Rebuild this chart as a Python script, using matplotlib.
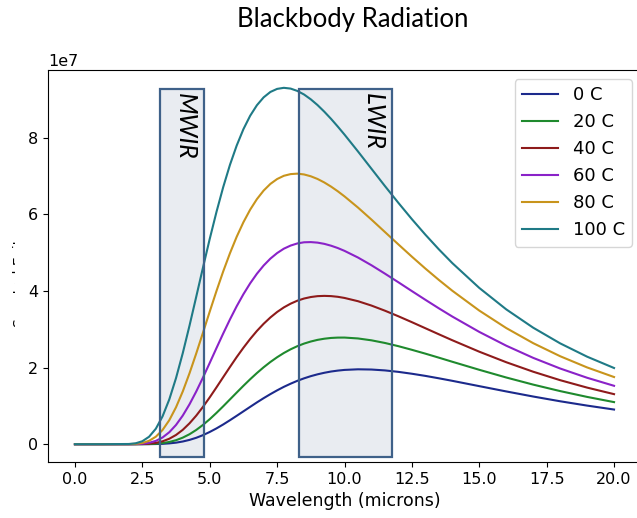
import numpy as np
import matplotlib.pyplot as plt
from matplotlib.patches import Rectangle

# === 1. Curves (units of 1e7) ===
wavelength = [0, 1, 2, 2.25, 2.5, 2.75, 3, 3.25, 3.5, 3.75, 4, 4.25, 4.5, 4.75, 5,
              5.25, 5.5, 5.75, 6, 6.25, 6.5, 6.75, 7, 7.25, 7.5, 7.75, 8, 8.25, 8.5, 8.75,
              9, 9.25, 9.5, 9.75, 10,
              10.5, 11, 11.5, 12, 12.5, 13, 13.5, 14,
              15, 16, 17, 18, 19, 20]

c0 = [0, 0, 0, 0, 0.0003, 0.001, 0.004, 0.009, 0.021, 0.040, 0.070, 0.112, 0.167, 0.236, 0.319,
      0.412, 0.515, 0.626, 0.741, 0.858, 0.975, 1.091, 1.202, 1.307, 1.406, 1.498, 1.580, 1.655, 1.720, 1.777,
      1.825, 1.865, 1.898, 1.922, 1.940,
      1.956, 1.950, 1.927, 1.889, 1.840, 1.784, 1.721, 1.655,
      1.516, 1.378, 1.245, 1.121, 1.008, 0.905]
c20 = [0, 0, 0, 0.0002, 0.001, 0.004, 0.012, 0.029, 0.058, 0.104, 0.171, 0.260, 0.372, 0.504, 0.653,
       0.817, 0.990, 1.169, 1.348, 1.525, 1.696, 1.858, 2.009, 2.147, 2.271, 2.382, 2.478, 2.560, 2.628, 2.682,
       2.725, 2.755, 2.775, 2.784, 2.785,
       2.762, 2.713, 2.644, 2.560, 2.465, 2.365, 2.260, 2.153,
       1.943, 1.742, 1.556, 1.387, 1.235, 1.099]
c40 = [0, 0, 0.0001, 0.0009, 0.004, 0.013, 0.034, 0.075, 0.142, 0.241, 0.375, 0.545, 0.746, 0.975, 1.223,
       1.484, 1.751, 2.016, 2.275, 2.519, 2.748, 2.958, 3.145, 3.310, 3.453, 3.573, 3.670, 3.748, 3.805, 3.844,
       3.867, 3.874, 3.868, 3.850, 3.820,
       3.735, 3.621, 3.487, 3.341, 3.187, 3.029, 2.871, 2.715,
       2.416, 2.141, 1.893, 1.672, 1.478, 1.307]
c60 = [0, 0, 0.0005, 0.003, 0.012, 0.036, 0.086, 0.175, 0.312, 0.503, 0.748, 1.042, 1.377, 1.741, 2.123,
       2.510, 2.891, 3.258, 3.603, 3.918, 4.202, 4.452, 4.667, 4.847, 4.992, 5.107, 5.188, 5.244, 5.274, 5.279,
       5.265, 5.233, 5.185, 5.124, 5.050,
       4.876, 4.674, 4.455, 4.229, 3.999, 3.772, 3.549, 3.334,
       2.933, 2.573, 2.255, 1.977, 1.735, 1.525]
c80 = [0, 0, 0.002, 0.009, 0.032, 0.088, 0.195, 0.371, 0.627, 0.965, 1.378, 1.853, 2.371, 2.914, 3.463,
       4.001, 4.513, 4.987, 5.418, 5.798, 6.126, 6.401, 6.625, 6.799, 6.926, 7.011, 7.055, 7.067, 7.046, 6.998,
       6.928, 6.837, 6.729, 6.607, 6.473,
       6.181, 5.867, 5.542, 5.218, 4.898, 4.588, 4.291, 4.008,
       3.490, 3.034, 2.639, 2.298, 2.005, 1.754]
c100 = [0, 0, 0.005, 0.023, 0.077, 0.194, 0.403, 0.727, 1.170, 1.728, 2.379, 3.097, 3.853, 4.615, 5.362,
        6.066, 6.715, 7.296, 7.800, 8.229, 8.579, 8.854, 9.060, 9.201, 9.281, 9.309, 9.289, 9.228, 9.134, 9.008,
        8.858, 8.686, 8.499, 8.297, 8.087,
        7.647, 7.195, 6.743, 6.303, 5.878, 5.473, 5.090, 4.730,
        4.082, 3.522, 3.043, 2.634, 2.286, 1.990]

labels = ["0 C", "20 C", "40 C", "60 C", "80 C", "100 C"]
series = [c0, c20, c40, c60, c80, c100]
colors = ["#1c2a8c", "#1f8a2e", "#8e1b1b", "#8a22c8", "#c8941c", "#1f7a86"]

# IR bands (microns) and label x positions
band_names = ["MWIR", "LWIR"]
band_lo = [3.15, 8.31]
band_hi = [4.77, 11.76]
band_text_x = [4.08, 11.05]

# === 2. Plot ===
fig = plt.figure(figsize=(6.37, 5.18), dpi=100)
ax = fig.add_axes([48 / 637, 56 / 518, 593 / 637, 392 / 518])

for lab, vals, col in zip(labels, series, colors):
    ax.plot(wavelength, np.array(vals) * 1e7, color=col, label=lab)

xlim = ax.get_xlim()
ylim = ax.get_ylim()

for name, lo, hi, tx in zip(band_names, band_lo, band_hi, band_text_x):
    y0, y1 = -0.34e7, 9.28e7
    ax.add_patch(Rectangle((lo, y0), hi - lo, y1 - y0, facecolor="#e9ecf1",
                           edgecolor="none", zorder=0.5))
    ax.add_patch(Rectangle((lo, y0), hi - lo, y1 - y0, fill=False,
                           edgecolor="#3f6189", lw=1.6, zorder=3))
    ax.text(tx, 9.17e7, name, rotation=270, ha="center", va="top",
            fontsize=18, style="italic", family="Lato", zorder=4)

ax.set_xlim(xlim)
ax.set_ylim(ylim)
ax.tick_params(labelsize=11.5)
ax.yaxis.get_offset_text().set_fontsize(11.5)
ax.set_xlabel("Wavelength (microns)", fontsize=12.5)
ax.set_ylabel("Spectral Exitance", fontsize=10, labelpad=0.5)
ax.legend(loc="upper right", fontsize=13)

fig.text(353 / 637, 1 - 19 / 518, "Blackbody Radiation", ha="center", va="center",
         fontsize=18.5, family="Lato")

# label is mostly hidden in the reference, only a sliver shows
fig.add_artist(Rectangle((14.5 / 637, 1 - 345 / 518), 13 / 637, 165 / 518,
                         transform=fig.transFigure, facecolor="white",
                         edgecolor="none", zorder=5))

fig.savefig("out.png", dpi=100)
